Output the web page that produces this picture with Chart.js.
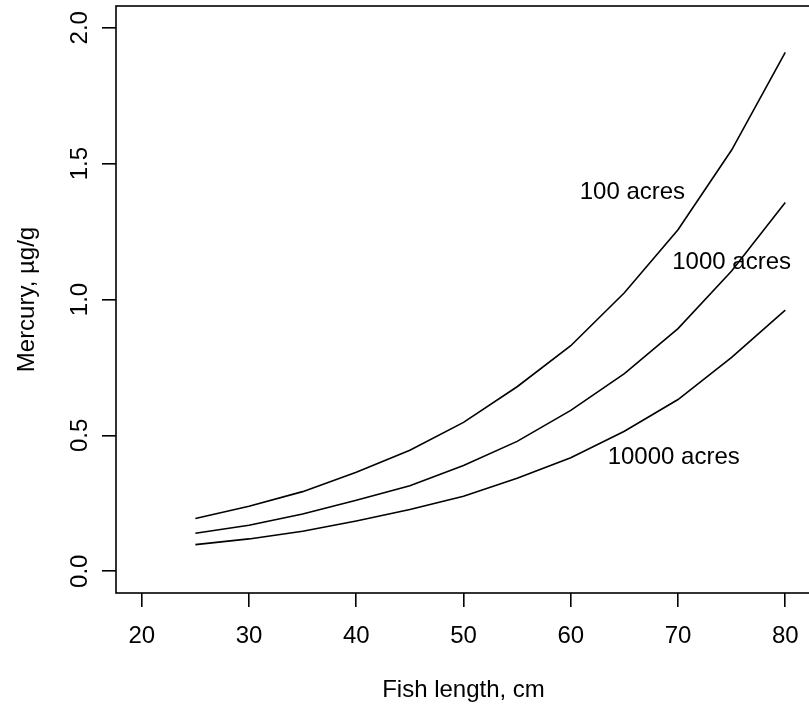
<!DOCTYPE html>
<html>
<head>
<meta charset="utf-8">
<script src="https://cdn.jsdelivr.net/npm/chart.js@4"></script>
<style>
html,body{margin:0;padding:0;overflow:hidden;background:#fff;}
canvas{display:block;}
</style>
</head>
<body>
<canvas id="c" width="812" height="713"></canvas>
<script>
const lengths = [25, 30, 35, 40, 45, 50, 55, 60, 65, 70, 75, 80];
const acres100 = [0.194, 0.239, 0.293, 0.364, 0.445, 0.548, 0.679, 0.830, 1.025, 1.257, 1.550, 1.909];
const acres1000 = [0.140, 0.169, 0.211, 0.261, 0.315, 0.389, 0.478, 0.592, 0.727, 0.893, 1.105, 1.357];
const acres10000 = [0.098, 0.119, 0.147, 0.185, 0.227, 0.276, 0.342, 0.418, 0.515, 0.632, 0.787, 0.961];
const seriesNames = ["100 acres", "1000 acres", "10000 acres"];
const xTicks = [20, 30, 40, 50, 60, 70, 80];
const yTicks = [0, 0.5, 1, 1.5, 2];
const yTickLabels = ["0.0", "0.5", "1.0", "1.5", "2.0"];
const xTitle = "Fish length, cm";
const yTitle = "Mercury, \u00b5g/g";

// annotation anchor positions (data coords) for the curve labels
const labelAnchors = [[65.75, 1.394], [75.0, 1.136], [69.6, 0.418]];

const FONT = "'Liberation Sans', Arial, sans-serif";
const FS = 24;

function pts(vals){ return lengths.map((x,i)=>({x:x, y:vals[i]})); }

const ds = [acres100, acres1000, acres10000].map((v,i)=>({
  label: seriesNames[i],
  data: pts(v),
  borderColor: '#000',
  borderWidth: 1.6,
  pointRadius: 0,
  tension: 0,
  fill: false
}));

const boxPlugin = {
  id: 'box',
  afterDraw(chart){
    const ctx = chart.ctx, a = chart.chartArea;
    ctx.save();
    ctx.strokeStyle = '#000';
    ctx.lineWidth = 1.6;
    ctx.strokeRect(a.left, a.top, a.right - a.left, a.bottom - a.top);
    // y tick labels, rotated
    const ys = chart.scales.y;
    ctx.fillStyle = '#000';
    ctx.font = FS + 'px ' + FONT;
    ctx.textAlign = 'center';
    ctx.textBaseline = 'middle';
    yTicks.forEach((v,i)=>{
      const py = ys.getPixelForValue(v);
      ctx.save();
      ctx.translate(80, py);
      ctx.rotate(-Math.PI/2);
      ctx.fillText(yTickLabels[i], 0, 0);
      ctx.restore();
    });
    // curve labels
    const xs = chart.scales.x;
    labelAnchors.forEach((p,i)=>{
      ctx.fillText(seriesNames[i], xs.getPixelForValue(p[0]), ys.getPixelForValue(p[1]));
    });
    ctx.restore();
  }
};

new Chart(document.getElementById('c'), {
  type: 'line',
  data: { datasets: ds },
  options: {
    responsive: false,
    animation: false,
    devicePixelRatio: 1,
    layout: { padding: { top: 6, right: 1, left: 0, bottom: 0 } },
    plugins: { legend: { display: false }, tooltip: { enabled: false } },
    scales: {
      x: {
        type: 'linear',
        min: 17.6, max: 82.4,
        afterBuildTicks(s){ s.ticks = xTicks.map(v=>({value:v})); },
        afterFit(s){ s.height = 120; s.paddingLeft = 0; s.paddingRight = 0; },
        grid: { drawOnChartArea: false, drawTicks: true, tickLength: 14, color: '#000', lineWidth: 1.6 },
        border: { display: false },
        ticks: { color: '#000', font: { family: FONT, size: FS }, padding: 15, maxRotation: 0, autoSkip: false,
                 callback: (v)=> String(v) },
        title: { display: true, text: xTitle, color: '#000', font: { family: FONT, size: FS }, padding: { top: 0, bottom: 8 } }
      },
      y: {
        type: 'linear',
        min: -0.08, max: 2.08,
        afterBuildTicks(s){ s.ticks = yTicks.map(v=>({value:v})); },
        afterFit(s){ s.width = 116; s.paddingTop = 0; s.paddingBottom = 0; },
        grid: { drawOnChartArea: false, drawTicks: true, tickLength: 14, color: '#000', lineWidth: 1.6 },
        border: { display: false },
        ticks: { display: false },
        title: { display: true, text: yTitle, color: '#000', font: { family: FONT, size: FS }, padding: { top: 13, bottom: 0 } }
      }
    }
  },
  plugins: [boxPlugin]
});
</script>
</body>
</html>
